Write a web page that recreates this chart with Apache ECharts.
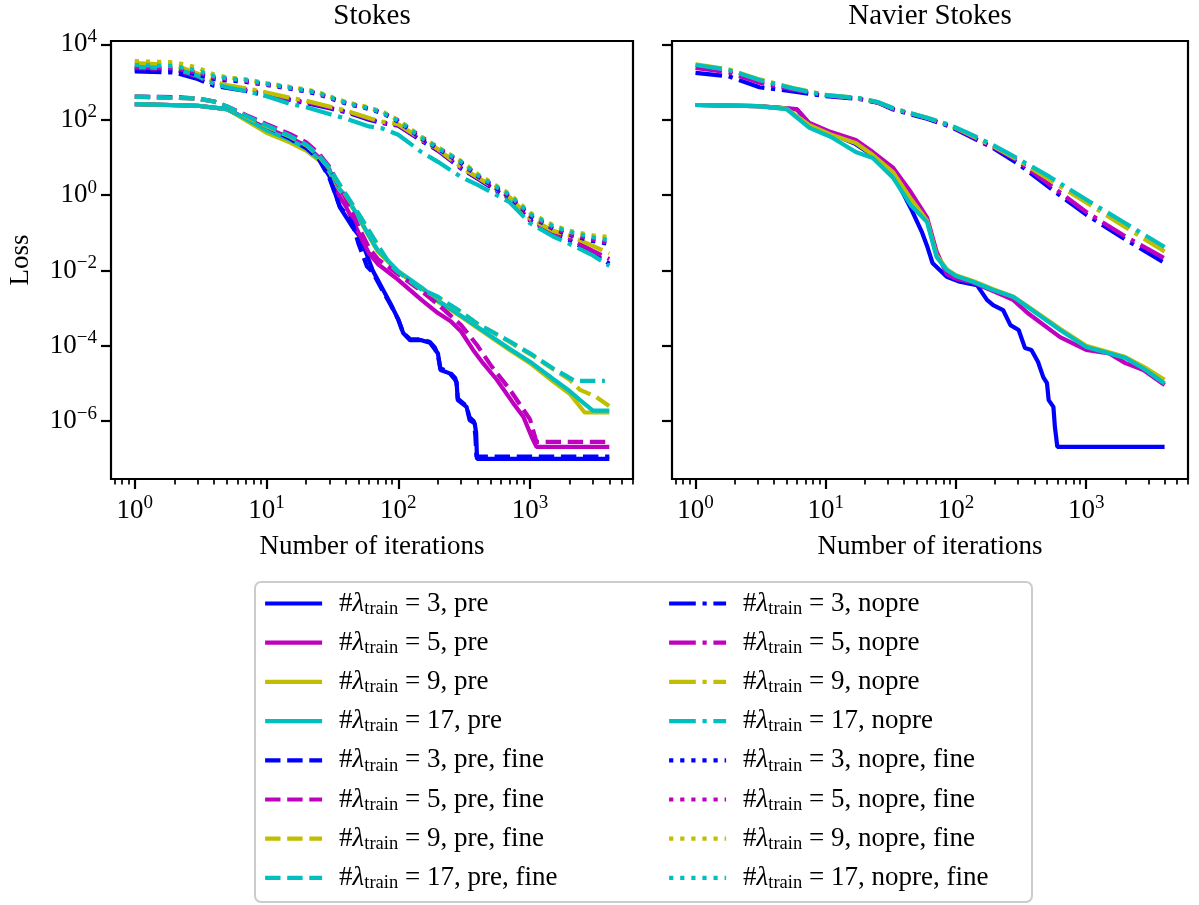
<!DOCTYPE html>
<html>
<head>
<meta charset="utf-8">
<script src="https://cdn.jsdelivr.net/npm/echarts@6/dist/echarts.min.js"></script>
<style>
  html, body { margin: 0; padding: 0; background: #fff; }
  #chart { width: 1199px; height: 905px; }
</style>
</head>
<body>
<div id="chart"></div>
<script>
// ---- axis ticks (log scale, values in data space) ----
const X_MAJOR = [1, 10, 100, 1000];
const X_MINOR = [0.7, 0.8, 0.9, 2, 3, 4, 5, 6, 7, 8, 9, 20, 30, 40, 50, 60, 70, 80, 90,
  200, 300, 400, 500, 600, 700, 800, 900, 2000, 3000, 4000, 5000, 6000];
const Y_MAJOR = [1e-6, 1e-4, 1e-2, 1, 1e2, 1e4];

// ---- Stokes: pre-trained (solid) ----
const stokesPre3It = [1, 3, 5, 7, 10, 15, 20, 25, 30, 36, 45, 51, 58, 64, 75, 87, 100, 109, 123, 150, 174, 190, 200, 209, 246, 270, 277, 283, 330, 348, 380, 390, 396, 4000];
const stokesPre3 = [257, 234, 191, 105, 56.2, 30.2, 17.8, 8.91, 3.16, 0.479, 0.141, 0.0794, 0.0251, 0.01, 3.55e-3, 1.35e-3, 5.01e-4, 2.19e-4, 1.41e-4, 1.41e-4, 1.2e-4, 7.94e-5, 6.31e-5, 2.29e-5, 1.86e-5, 1.26e-5, 1.1e-5, 3.63e-6, 2.4e-6, 1.07e-6, 8.91e-7, 5.01e-7, 1e-7, 1e-7];
const stokesPre5It = [1, 3, 5, 7, 10, 15, 20, 25, 30, 36, 40, 50, 60, 70, 100, 150, 200, 250, 300, 370, 440, 560, 745, 890, 1030, 1120, 4000];
const stokesPre5 = [257, 234, 191, 107, 60.3, 33.1, 20.0, 10.0, 4.79, 0.891, 0.501, 0.1, 0.0282, 0.0148, 5.62e-3, 1.66e-3, 7.41e-4, 4.47e-4, 2.4e-4, 7.76e-5, 3.47e-5, 1.26e-5, 3.02e-6, 1.32e-6, 3.8e-7, 2.09e-7, 2.09e-7];
const stokesPre9It = [1, 3, 5, 7, 10, 15, 20, 25, 30, 36, 40, 50, 60, 70, 100, 150, 200, 300, 400, 500, 700, 1000, 1500, 2000, 2600, 4000];
const stokesPre9 = [257, 234, 191, 95.5, 44.7, 25.1, 15.1, 8.32, 4.17, 1.35, 0.891, 0.251, 0.0794, 0.0316, 9.12e-3, 3.39e-3, 1.48e-3, 5.89e-4, 2.95e-4, 1.74e-4, 7.76e-5, 3.47e-5, 1.12e-5, 5.37e-6, 1.7e-6, 1.7e-6];
const stokesPre17It = [1, 3, 5, 7, 10, 15, 20, 25, 30, 36, 40, 50, 60, 70, 100, 150, 200, 300, 400, 500, 700, 1000, 1500, 2000, 2400, 3000, 4000];
const stokesPre17 = [257, 234, 191, 105, 52.5, 29.5, 17.4, 9.12, 4.47, 1.41, 0.933, 0.263, 0.0832, 0.0339, 9.55e-3, 3.55e-3, 1.58e-3, 6.31e-4, 3.16e-4, 1.86e-4, 8.32e-5, 3.8e-5, 1.32e-5, 6.31e-6, 3.63e-6, 1.91e-6, 1.91e-6];

// ---- Stokes: pre-trained + fine (dashed) ----
const stokesFine3It = [1, 2, 3, 4, 5, 7, 10, 15, 20, 25, 30, 36, 45, 50, 58, 64, 75, 87, 100, 109, 123, 150, 174, 190, 200, 209, 246, 270, 277, 283, 330, 348, 375, 385, 392, 4000];
const stokesFine3 = [407, 398, 363, 302, 224, 126, 66.1, 31.6, 17.8, 8.91, 2.82, 0.501, 0.178, 0.0501, 0.0126, 8.91e-3, 3.16e-3, 1.26e-3, 5.01e-4, 2.19e-4, 1.51e-4, 1.48e-4, 1.26e-4, 8.91e-5, 5.62e-5, 2.51e-5, 2e-5, 1.41e-5, 1e-5, 3.98e-6, 2.51e-6, 1.26e-6, 1e-6, 3.98e-7, 1.15e-7, 1.15e-7];
const stokesFine5It = [1, 3, 4, 5, 7, 10, 15, 20, 25, 30, 40, 50, 60, 70, 100, 150, 200, 300, 400, 500, 700, 1000, 1120, 4000];
const stokesFine5 = [407, 363, 302, 224, 132, 75.9, 41.7, 25.1, 12.6, 5.62, 0.794, 0.141, 0.0398, 0.02, 7.94e-3, 2.82e-3, 1.26e-3, 3.55e-4, 1e-4, 3.16e-5, 7.08e-6, 1.12e-6, 2.82e-7, 2.82e-7];
const stokesFine9It = [1, 3, 4, 5, 7, 10, 15, 20, 25, 30, 40, 50, 60, 70, 87, 100, 150, 200, 300, 400, 500, 700, 1000, 1500, 2000, 2400, 3150, 4000];
const stokesFine9 = [407, 363, 302, 224, 120, 66.1, 35.5, 20.9, 10.5, 5.01, 1.0, 0.316, 0.112, 0.0447, 0.0141, 9.12e-3, 3.16e-3, 1.91e-3, 7.94e-4, 3.8e-4, 2.51e-4, 1.26e-4, 6.03e-5, 2.4e-5, 1.26e-5, 6.76e-6, 4.47e-6, 2.51e-6];
const stokesFine17It = [1, 3, 4, 5, 7, 10, 15, 20, 25, 30, 40, 50, 60, 70, 87, 100, 150, 200, 300, 400, 500, 700, 1000, 1500, 2000, 2200, 3700];
const stokesFine17 = [407, 363, 302, 224, 126, 70.8, 37.2, 21.9, 11.2, 5.25, 1.05, 0.316, 0.112, 0.0468, 0.0141, 9.12e-3, 3.16e-3, 2e-3, 7.94e-4, 3.8e-4, 2.51e-4, 1.32e-4, 6.31e-5, 2.51e-5, 1.41e-5, 1.17e-5, 1.17e-5];

// ---- Stokes: no pre-training (dash-dot) ----
const stokesNopreIt = [1, 2, 3, 4, 5, 7, 10, 15, 20, 30, 40, 60, 75, 100, 150, 200, 300, 400, 700, 1000, 1500, 2000, 3000, 4000];
const stokesNopre3 = [1910, 1780, 1200, 794, 692, 575, 437, 331, 275, 200, 158, 100, 81.3, 69.2, 27.5, 15.1, 5.01, 2.69, 0.794, 0.209, 0.0933, 0.0631, 0.0282, 0.0151];
const stokesNopre5 = [2340, 2140, 1380, 891, 759, 631, 479, 355, 295, 209, 166, 105, 85.1, 72.4, 28.8, 15.8, 5.25, 2.82, 0.832, 0.219, 0.1, 0.0708, 0.0331, 0.02];
const stokesNopre9 = [3160, 2820, 1660, 1000, 832, 676, 525, 380, 316, 224, 174, 110, 89.1, 75.9, 30.2, 16.6, 5.5, 2.95, 0.871, 0.24, 0.112, 0.0832, 0.0447, 0.0282];
const stokesNopre17 = [2510, 2290, 1450, 891, 724, 575, 417, 263, 214, 141, 107, 66.1, 58.9, 39.8, 13.8, 7.59, 3.02, 1.86, 0.646, 0.178, 0.0794, 0.0501, 0.0251, 0.0132];

// ---- Stokes: no pre-training + fine (dotted) ----
const stokesNopreFineIt = [1, 2, 3, 4, 5, 7, 10, 15, 20, 25, 30, 40, 60, 75, 100, 150, 200, 300, 400, 700, 1000, 1500, 2000, 3000, 4000];
const stokesNopreFine3 = [2090, 2000, 1580, 1200, 1100, 1000, 832, 661, 562, 468, 372, 269, 191, 151, 89.1, 31.6, 17.0, 7.08, 3.16, 0.891, 0.275, 0.126, 0.0871, 0.0603, 0.0501];
const stokesNopreFine5 = [2400, 2290, 1780, 1320, 1200, 1070, 871, 692, 589, 490, 398, 282, 200, 158, 95.5, 34.7, 18.2, 7.59, 3.31, 0.955, 0.295, 0.132, 0.0933, 0.0661, 0.0537];
const stokesNopreFine9 = [3550, 3310, 2400, 1580, 1320, 1170, 933, 741, 631, 525, 417, 295, 209, 166, 97.7, 34.7, 18.6, 7.94, 3.63, 1.07, 0.339, 0.158, 0.112, 0.0851, 0.0759];
const stokesNopreFine17 = [2820, 2630, 2000, 1410, 1260, 1120, 891, 708, 603, 501, 398, 282, 200, 158, 93.3, 33.1, 17.8, 7.59, 3.39, 1.0, 0.316, 0.148, 0.105, 0.0759, 0.0631];

// ---- Navier Stokes: pre-trained (solid) ----
const navierPre3It = [1, 3, 5, 6, 7.5, 11, 17, 23, 33, 45, 55, 60, 66, 85, 107, 145, 173, 193, 230, 262, 303, 339, 380, 427, 468, 500, 515, 560, 575, 600, 4000];
const navierPre3 = [245, 229, 200, 186, 75.9, 42.7, 22.4, 11.2, 3.55, 0.447, 0.1, 0.0447, 0.0158, 6.76e-3, 5.01e-3, 4.07e-3, 1.66e-3, 1.2e-3, 8.91e-4, 3.55e-4, 2.63e-4, 8.71e-5, 7.76e-5, 3.72e-5, 1.48e-5, 1.02e-5, 3.63e-6, 2.4e-6, 7.08e-7, 2.09e-7, 2.09e-7];
const navierPre5It = [1, 3, 5, 6, 7.5, 11, 17, 23, 33, 45, 60, 71, 85, 100, 135, 193, 275, 355, 630, 1000, 1500, 2000, 2750, 4000];
const navierPre5 = [245, 229, 200, 191, 81.3, 46.8, 28.8, 13.8, 5.25, 1.2, 0.251, 0.0316, 7.94e-3, 6.03e-3, 4.79e-3, 2.82e-3, 1.66e-3, 7.41e-4, 1.7e-4, 7.76e-5, 6.31e-5, 3.47e-5, 2.29e-5, 9.12e-6];
const navierPreIt = [1, 3, 5, 7.5, 11, 17, 23, 33, 45, 60, 71, 85, 100, 135, 193, 275, 355, 630, 1000, 1500, 2000, 2750, 4000];
const navierPre9 = [245, 229, 195, 70.8, 39.8, 24.0, 11.5, 3.98, 0.794, 0.209, 0.0251, 0.0107, 7.41e-3, 5.25e-3, 3.16e-3, 2e-3, 1.12e-3, 2.82e-4, 1e-4, 6.76e-5, 5.01e-5, 2.82e-5, 1.26e-5];
const navierPre17 = [245, 229, 191, 60.3, 34.7, 13.8, 9.55, 2.82, 0.537, 0.191, 0.0229, 0.0102, 7.08e-3, 5.01e-3, 3.02e-3, 2e-3, 1.07e-3, 2.63e-4, 9.33e-5, 6.31e-5, 4.79e-5, 2.51e-5, 1e-5];

// ---- Navier Stokes: no pre-training (dash-dot) ----
const navierNopreIt = [1, 1.8, 3.1, 5.6, 10, 18, 25, 33, 60, 90, 120, 192, 294, 526, 1000, 2000, 4000];
const navierNopre3 = [1740, 1410, 724, 562, 417, 355, 282, 186, 105, 66.1, 39.8, 17.8, 7.08, 1.55, 0.302, 0.0661, 0.0158];
const navierNopre5 = [2340, 1820, 955, 631, 437, 363, 288, 195, 110, 69.2, 42.7, 19.1, 8.32, 1.86, 0.355, 0.0794, 0.0209];
const navierNopre9 = [2950, 2140, 1170, 692, 457, 372, 295, 200, 112, 70.8, 44.7, 20.0, 8.91, 2.51, 0.631, 0.141, 0.0316];
const navierNopre17 = [2820, 2090, 1120, 676, 447, 372, 295, 200, 112, 72.4, 46.8, 21.4, 9.55, 3.02, 0.759, 0.178, 0.0417];

// ---- styling ----
const FONT = "'Liberation Serif', 'DejaVu Serif', serif";
const COLORS = { 3: '#0000ff', 5: '#bf00bf', 9: '#bfbf00', 17: '#00bfbf' };
const LW = 4.2;
const DASHED = [15.4, 6.7];
const DASHDOT = [26.7, 6.7, 4.2, 6.7];
const DOTTED = [4.2, 6.9];
const X_MIN = 0.66, X_MAX = 6050;
const Y_MIN = 2.93e-8, Y_MAX = 1.22e4;

const name = (n, kind) => '#\u03bbtrain = ' + n + ', ' + kind;

function line(label, n, its, losses, dash, xi, yi) {
  return {
    name: label, type: 'line', xAxisIndex: xi, yAxisIndex: yi,
    data: its.map((it, i) => [it, losses[i]]),
    symbol: 'none', silent: true, color: COLORS[n],
    lineStyle: { color: COLORS[n], width: LW, type: dash, cap: 'butt' },
    emphasis: { disabled: true }
  };
}

const series = [
  // Stokes panel
  line(name(3, 'pre'), 3, stokesPre3It, stokesPre3, 'solid', 0, 0),
  line(name(5, 'pre'), 5, stokesPre5It, stokesPre5, 'solid', 0, 0),
  line(name(9, 'pre'), 9, stokesPre9It, stokesPre9, 'solid', 0, 0),
  line(name(17, 'pre'), 17, stokesPre17It, stokesPre17, 'solid', 0, 0),
  line(name(3, 'pre, fine'), 3, stokesFine3It, stokesFine3, DASHED, 0, 0),
  line(name(5, 'pre, fine'), 5, stokesFine5It, stokesFine5, DASHED, 0, 0),
  line(name(9, 'pre, fine'), 9, stokesFine9It, stokesFine9, DASHED, 0, 0),
  line(name(17, 'pre, fine'), 17, stokesFine17It, stokesFine17, DASHED, 0, 0),
  line(name(3, 'nopre'), 3, stokesNopreIt, stokesNopre3, DASHDOT, 0, 0),
  line(name(5, 'nopre'), 5, stokesNopreIt, stokesNopre5, DASHDOT, 0, 0),
  line(name(9, 'nopre'), 9, stokesNopreIt, stokesNopre9, DASHDOT, 0, 0),
  line(name(17, 'nopre'), 17, stokesNopreIt, stokesNopre17, DASHDOT, 0, 0),
  line(name(3, 'nopre, fine'), 3, stokesNopreFineIt, stokesNopreFine3, DOTTED, 0, 0),
  line(name(5, 'nopre, fine'), 5, stokesNopreFineIt, stokesNopreFine5, DOTTED, 0, 0),
  line(name(9, 'nopre, fine'), 9, stokesNopreFineIt, stokesNopreFine9, DOTTED, 0, 0),
  line(name(17, 'nopre, fine'), 17, stokesNopreFineIt, stokesNopreFine17, DOTTED, 0, 0),
  // Navier Stokes panel
  line(name(3, 'pre'), 3, navierPre3It, navierPre3, 'solid', 2, 1),
  line(name(5, 'pre'), 5, navierPre5It, navierPre5, 'solid', 2, 1),
  line(name(9, 'pre'), 9, navierPreIt, navierPre9, 'solid', 2, 1),
  line(name(17, 'pre'), 17, navierPreIt, navierPre17, 'solid', 2, 1),
  line(name(3, 'nopre'), 3, navierNopreIt, navierNopre3, DASHDOT, 2, 1),
  line(name(5, 'nopre'), 5, navierNopreIt, navierNopre5, DASHDOT, 2, 1),
  line(name(9, 'nopre'), 9, navierNopreIt, navierNopre9, DASHDOT, 2, 1),
  line(name(17, 'nopre'), 17, navierNopreIt, navierNopre17, DASHDOT, 2, 1)
];

function powLabel(v) {
  const e = Math.round(Math.log10(v));
  return '{b|10}{e|' + (e < 0 ? '\u2212' + (-e) : String(e)) + '}';
}
const labelRich = {
  b: { fontFamily: FONT, fontSize: 27, lineHeight: 34, color: '#000' },
  e: { fontFamily: FONT, fontSize: 19, lineHeight: 34, verticalAlign: 'top', color: '#000' }
};
const axisNameStyle = { fontFamily: FONT, fontSize: 27, color: '#000' };

function mainX(gi) {
  return {
    gridIndex: gi, type: 'log', position: 'bottom', min: X_MIN, max: X_MAX,
    axisLine: { show: false }, splitLine: { show: false },
    axisTick: { show: true, customValues: X_MAJOR, length: 10, lineStyle: { color: '#000', width: 2.2 } },
    axisLabel: { customValues: X_MAJOR, formatter: powLabel, margin: 15, rich: labelRich },
    name: 'Number of iterations', nameLocation: 'middle', nameGap: 54, nameTextStyle: axisNameStyle
  };
}
function minorX(gi) {
  return {
    gridIndex: gi, type: 'log', position: 'bottom', min: X_MIN, max: X_MAX,
    axisLine: { show: false }, splitLine: { show: false }, axisLabel: { show: false },
    axisTick: { show: true, customValues: X_MINOR, length: 5.6, lineStyle: { color: '#000', width: 1.7 } }
  };
}
function yAx(gi, withLabels) {
  const ax = {
    gridIndex: gi, type: 'log', position: 'left', min: Y_MIN, max: Y_MAX,
    axisLine: { show: false }, splitLine: { show: false },
    axisTick: { show: true, customValues: Y_MAJOR, length: 10, lineStyle: { color: '#000', width: 2.2 } },
    axisLabel: withLabels
      ? { customValues: Y_MAJOR, formatter: powLabel, margin: 14, rich: labelRich }
      : { show: false }
  };
  if (withLabels) {
    ax.name = 'Loss'; ax.nameLocation = 'middle'; ax.nameGap = 77; ax.nameTextStyle = axisNameStyle;
  }
  return ax;
}

const legendRich = {
  h: { fontFamily: FONT, fontSize: 27, lineHeight: 30, padding: [0, 0, 0, 12], color: '#000' },
  l: { fontFamily: FONT, fontSize: 27, lineHeight: 30, fontStyle: 'italic', color: '#000' },
  s: { fontFamily: FONT, fontSize: 18.5, lineHeight: 30, verticalAlign: 'bottom', color: '#000' },
  t: { fontFamily: FONT, fontSize: 27, lineHeight: 30, color: '#000' }
};
function legendLabel(n) {
  return '{h|#}{l|\u03bb}{s|train}{t|' + n.slice('#\u03bbtrain'.length) + '}';
}
function legendCol(names, left) {
  return {
    data: names, orient: 'vertical', left: left, top: 590, padding: 0,
    itemGap: 10.7, itemWidth: 57, itemHeight: 14, selectedMode: false,
    itemStyle: { opacity: 0 }, lineStyle: { width: LW },
    formatter: legendLabel,
    textStyle: { fontFamily: FONT, fontSize: 27, color: '#000', rich: legendRich }
  };
}

const gridBox = { show: true, borderColor: '#000', borderWidth: 2.2, backgroundColor: 'transparent', containLabel: false, outerBoundsMode: 'none' };

const chart = echarts.init(document.getElementById('chart'), null, { renderer: 'canvas' });
chart.setOption({
  animation: false,
  backgroundColor: '#fff',
  title: [
    { text: 'Stokes', left: 372, top: 2, textAlign: 'center', padding: 0,
      textStyle: { fontFamily: FONT, fontSize: 29, fontWeight: 'normal', color: '#000' } },
    { text: 'Navier Stokes', left: 930, top: 2, textAlign: 'center', padding: 0,
      textStyle: { fontFamily: FONT, fontSize: 29, fontWeight: 'normal', color: '#000' } }
  ],
  grid: [
    Object.assign({ left: 111, top: 41, width: 522, height: 438 }, gridBox),
    Object.assign({ left: 672, top: 41, width: 516, height: 438 }, gridBox)
  ],
  xAxis: [mainX(0), minorX(0), mainX(1), minorX(1)],
  yAxis: [yAx(0, true), yAx(1, false)],
  graphic: [{
    type: 'rect', x: 255, y: 582, z: 0, silent: true,
    shape: { x: 0, y: 0, width: 777, height: 320, r: 6 },
    style: { fill: '#fff', stroke: '#cccccc', lineWidth: 2 }
  }],
  legend: [
    legendCol([name(3, 'pre'), name(5, 'pre'), name(9, 'pre'), name(17, 'pre'),
      name(3, 'pre, fine'), name(5, 'pre, fine'), name(9, 'pre, fine'), name(17, 'pre, fine')], 263),
    legendCol([name(3, 'nopre'), name(5, 'nopre'), name(9, 'nopre'), name(17, 'nopre'),
      name(3, 'nopre, fine'), name(5, 'nopre, fine'), name(9, 'nopre, fine'), name(17, 'nopre, fine')], 667)
  ],
  series: series
});
</script>
</body>
</html>
